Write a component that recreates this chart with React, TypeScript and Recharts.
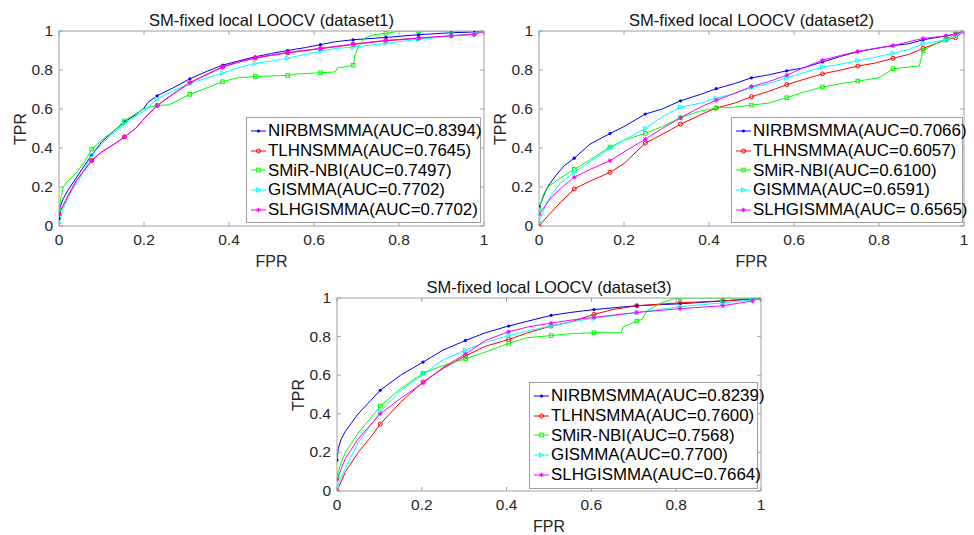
import React from "react";
import { LineChart, Line, XAxis, YAxis } from "recharts";

type Pt = [number, number];

const seriesNames = ["NIRBMSMMA", "TLHNSMMA", "SMiR-NBI", "GISMMA", "SLHGISMMA"];
const seriesColors = ["#0000ff", "#ff0000", "#00ff00", "#00ffff", "#ff00ff"];
const axisTicks = [0, 0.2, 0.4, 0.6, 0.8, 1];

// dataset1
const auc1 = ["0.8394", "0.7645", "0.7497", "0.7702", "0.7702"];
const marks1 = [0, 0.077, 0.154, 0.231, 0.308, 0.385, 0.462, 0.538, 0.615, 0.692, 0.769, 0.846, 0.923, 0.977, 1];
const nirb1: Pt[] = [[0,0.038],[0.003,0.1],[0.01,0.14],[0.02,0.18],[0.04,0.245],[0.06,0.31],[0.077,0.363],[0.1,0.43],[0.13,0.49],[0.154,0.534],[0.18,0.57],[0.2,0.605],[0.21,0.635],[0.231,0.668],[0.27,0.71],[0.308,0.755],[0.35,0.795],[0.385,0.825],[0.42,0.845],[0.462,0.868],[0.5,0.885],[0.538,0.9],[0.58,0.915],[0.615,0.93],[0.65,0.945],[0.692,0.955],[0.769,0.967],[0.846,0.981],[0.923,0.991],[0.977,0.995],[1,1]];
const tlhn1: Pt[] = [[0,0.062],[0.02,0.15],[0.04,0.23],[0.077,0.336],[0.1,0.38],[0.13,0.42],[0.154,0.457],[0.18,0.5],[0.2,0.55],[0.231,0.618],[0.27,0.679],[0.308,0.734],[0.35,0.779],[0.385,0.815],[0.42,0.839],[0.462,0.861],[0.5,0.875],[0.538,0.888],[0.615,0.909],[0.692,0.931],[0.769,0.95],[0.846,0.962],[0.923,0.975],[0.977,0.983],[1,1]];
const smir1: Pt[] = [[0,0.085],[0.005,0.15],[0.01,0.2],[0.02,0.23],[0.04,0.27],[0.06,0.33],[0.077,0.394],[0.1,0.44],[0.13,0.49],[0.154,0.539],[0.18,0.575],[0.2,0.602],[0.231,0.618],[0.26,0.622],[0.28,0.645],[0.308,0.675],[0.35,0.71],[0.385,0.74],[0.42,0.76],[0.462,0.767],[0.538,0.772],[0.56,0.78],[0.615,0.786],[0.65,0.79],[0.655,0.81],[0.692,0.824],[0.697,0.88],[0.705,0.92],[0.72,0.965],[0.74,0.98],[0.769,0.988],[0.79,0.995],[0.8,1],[0.846,1],[0.923,1],[0.977,1],[1,1]];
const gis1: Pt[] = [[0,0.015],[0.01,0.09],[0.03,0.18],[0.05,0.25],[0.077,0.363],[0.1,0.42],[0.13,0.48],[0.154,0.526],[0.2,0.59],[0.231,0.651],[0.27,0.695],[0.308,0.731],[0.35,0.76],[0.385,0.784],[0.42,0.81],[0.462,0.834],[0.5,0.845],[0.538,0.861],[0.58,0.88],[0.615,0.897],[0.65,0.91],[0.692,0.918],[0.769,0.937],[0.846,0.957],[0.923,0.975],[0.977,0.985],[1,1]];
const slhg1: Pt[] = [[0,0.062],[0.02,0.15],[0.04,0.23],[0.077,0.336],[0.1,0.38],[0.13,0.42],[0.154,0.457],[0.18,0.5],[0.2,0.55],[0.231,0.618],[0.27,0.68],[0.308,0.736],[0.35,0.78],[0.385,0.817],[0.42,0.84],[0.462,0.863],[0.5,0.877],[0.538,0.89],[0.615,0.911],[0.692,0.933],[0.769,0.952],[0.846,0.964],[0.923,0.976],[0.977,0.983],[1,1]];

// dataset2
const auc2 = ["0.7066", "0.6057", "0.6100", "0.6591", " 0.6565"];
const marks2 = [0, 0.083, 0.167, 0.25, 0.333, 0.417, 0.5, 0.583, 0.667, 0.75, 0.833, 0.904, 0.958, 0.98, 1];
const nirb2: Pt[] = [[0,0.101],[0.005,0.12],[0.01,0.15],[0.02,0.2],[0.04,0.26],[0.06,0.31],[0.083,0.348],[0.12,0.42],[0.167,0.474],[0.2,0.51],[0.25,0.574],[0.29,0.6],[0.333,0.642],[0.38,0.675],[0.417,0.704],[0.46,0.73],[0.5,0.76],[0.54,0.775],[0.583,0.796],[0.62,0.81],[0.667,0.841],[0.71,0.87],[0.75,0.894],[0.79,0.91],[0.833,0.925],[0.87,0.935],[0.904,0.955],[0.958,0.975],[0.98,0.985],[1,1]];
const tlhn2: Pt[] = [[0,0],[0.02,0.05],[0.05,0.12],[0.083,0.19],[0.12,0.23],[0.167,0.275],[0.2,0.32],[0.25,0.425],[0.29,0.47],[0.333,0.522],[0.38,0.57],[0.417,0.605],[0.46,0.63],[0.5,0.663],[0.54,0.69],[0.583,0.725],[0.62,0.75],[0.667,0.78],[0.71,0.8],[0.75,0.82],[0.79,0.835],[0.833,0.86],[0.87,0.88],[0.904,0.911],[0.958,0.955],[0.98,0.966],[1,1]];
const smir2: Pt[] = [[0,0.086],[0.01,0.16],[0.02,0.2],[0.04,0.23],[0.06,0.26],[0.083,0.29],[0.12,0.34],[0.167,0.405],[0.2,0.44],[0.25,0.475],[0.29,0.51],[0.333,0.555],[0.38,0.59],[0.417,0.605],[0.46,0.61],[0.5,0.62],[0.54,0.63],[0.583,0.658],[0.62,0.685],[0.667,0.713],[0.71,0.73],[0.75,0.743],[0.8,0.76],[0.815,0.78],[0.833,0.807],[0.87,0.815],[0.895,0.82],[0.9,0.87],[0.904,0.9],[0.93,0.93],[0.958,0.96],[0.98,0.985],[1,1]];
const gis2: Pt[] = [[0,0.02],[0.02,0.13],[0.05,0.22],[0.083,0.275],[0.12,0.33],[0.167,0.4],[0.2,0.44],[0.25,0.5],[0.29,0.56],[0.333,0.61],[0.38,0.63],[0.417,0.655],[0.46,0.68],[0.5,0.71],[0.54,0.73],[0.583,0.76],[0.62,0.785],[0.667,0.815],[0.71,0.83],[0.75,0.848],[0.79,0.865],[0.833,0.885],[0.87,0.905],[0.904,0.935],[0.958,0.955],[0.98,0.975],[1,1]];
const slhg2: Pt[] = [[0,0.06],[0.03,0.15],[0.06,0.21],[0.083,0.25],[0.12,0.29],[0.167,0.335],[0.2,0.38],[0.25,0.445],[0.29,0.5],[0.333,0.555],[0.38,0.61],[0.417,0.645],[0.46,0.68],[0.5,0.715],[0.54,0.74],[0.583,0.773],[0.62,0.81],[0.667,0.85],[0.71,0.875],[0.75,0.895],[0.79,0.91],[0.833,0.925],[0.87,0.945],[0.904,0.962],[0.958,0.975],[0.98,0.985],[1,1]];

// dataset3
const auc3 = ["0.8239", "0.7600", "0.7568", "0.7700", "0.7664"];
const marks3 = [0, 0.102, 0.203, 0.303, 0.405, 0.505, 0.606, 0.707, 0.809, 0.91, 0.98, 1];
const nirb3: Pt[] = [[0,0.16],[0.003,0.22],[0.01,0.27],[0.02,0.31],[0.05,0.4],[0.08,0.47],[0.102,0.522],[0.15,0.6],[0.203,0.668],[0.25,0.73],[0.303,0.78],[0.35,0.82],[0.405,0.855],[0.45,0.88],[0.505,0.91],[0.55,0.925],[0.606,0.94],[0.707,0.96],[0.809,0.97],[0.91,0.985],[0.98,0.995],[1,1]];
const tlhn3: Pt[] = [[0,0],[0.02,0.1],[0.05,0.2],[0.08,0.28],[0.102,0.347],[0.15,0.46],[0.203,0.565],[0.25,0.635],[0.303,0.7],[0.35,0.75],[0.405,0.785],[0.45,0.82],[0.505,0.855],[0.55,0.875],[0.606,0.915],[0.65,0.94],[0.707,0.96],[0.809,0.975],[0.91,0.985],[0.98,0.995],[1,1]];
const smir3: Pt[] = [[0,0.075],[0.01,0.15],[0.02,0.2],[0.05,0.3],[0.08,0.38],[0.102,0.44],[0.15,0.53],[0.203,0.61],[0.25,0.65],[0.303,0.685],[0.35,0.72],[0.405,0.765],[0.45,0.795],[0.505,0.805],[0.55,0.815],[0.606,0.82],[0.67,0.82],[0.675,0.85],[0.707,0.88],[0.72,0.89],[0.73,0.93],[0.76,0.97],[0.8,1],[0.809,1],[0.91,1],[0.98,1],[1,1]];
const gis3: Pt[] = [[0,0.02],[0.02,0.12],[0.05,0.25],[0.102,0.41],[0.15,0.52],[0.203,0.605],[0.25,0.68],[0.303,0.73],[0.35,0.77],[0.405,0.805],[0.45,0.83],[0.505,0.855],[0.55,0.875],[0.606,0.895],[0.707,0.925],[0.809,0.955],[0.91,0.975],[0.98,0.99],[1,1]];
const slhg3: Pt[] = [[0,0.06],[0.02,0.17],[0.05,0.27],[0.102,0.4],[0.15,0.48],[0.203,0.56],[0.25,0.64],[0.303,0.71],[0.35,0.78],[0.405,0.825],[0.45,0.85],[0.505,0.87],[0.55,0.885],[0.606,0.9],[0.707,0.925],[0.809,0.945],[0.91,0.96],[0.98,0.985],[1,1]];

const BOX = "#a0a0a0";
const INK = "#262626";
const FONT = "'Liberation Sans', Arial, sans-serif";

const toRows = (pts: Pt[]) => pts.map(([fpr, tpr]) => ({ fpr, tpr }));

function Marker({ kind, cx, cy, color }: { kind: number; cx: number; cy: number; color: string }) {
  if (kind === 0) return <circle cx={cx} cy={cy} r={1.6} fill={color} />;
  if (kind === 1) return <circle cx={cx} cy={cy} r={2} fill="none" stroke={color} strokeWidth={1} />;
  if (kind === 2) return <rect x={cx - 1.8} y={cy - 1.8} width={3.6} height={3.6} fill="none" stroke={color} strokeWidth={1} />;
  if (kind === 3)
    return <path d={`M${cx - 2},${cy - 2.3}L${cx + 2.3},${cy}L${cx - 2},${cy + 2.3}Z`} fill="none" stroke={color} strokeWidth={1} />;
  return (
    <g stroke={color} strokeWidth={1}>
      <line x1={cx - 2.3} y1={cy} x2={cx + 2.3} y2={cy} />
      <line x1={cx} y1={cy - 2.3} x2={cx} y2={cy + 2.3} />
      <line x1={cx - 1.6} y1={cy - 1.6} x2={cx + 1.6} y2={cy + 1.6} />
      <line x1={cx - 1.6} y1={cy + 1.6} x2={cx + 1.6} y2={cy - 1.6} />
    </g>
  );
}

const fmt = (v: number) => String(v);

const BottomTick = (p: any) => (
  <g>
    <line x1={p.x} x2={p.x} y1={p.y} y2={p.y - 4} stroke={BOX} />
    <text x={p.x} y={p.y + 19} textAnchor="middle" fill={INK} fontSize={15.5} fontFamily={FONT}>
      {fmt(p.payload.value)}
    </text>
  </g>
);
const TopTick = (p: any) => <line x1={p.x} x2={p.x} y1={p.y} y2={p.y + 4} stroke={BOX} />;
const LeftTick = (p: any) => (
  <g>
    <line x1={p.x} x2={p.x + 4} y1={p.y} y2={p.y} stroke={BOX} />
    <text x={p.x - 6} y={p.y + 5} textAnchor="end" fill={INK} fontSize={15.5} fontFamily={FONT}>
      {fmt(p.payload.value)}
    </text>
  </g>
);
const RightTick = (p: any) => <line x1={p.x} x2={p.x - 4} y1={p.y} y2={p.y} stroke={BOX} />;

type PanelProps = {
  left: number;
  top: number;
  w: number;
  h: number;
  title: string;
  curves: Pt[][];
  marks: number[];
  aucs: string[];
  legend: { left: number; top: number; width: number; height: number };
};

// space around the plot area inside each chart svg; each axis takes 1px of it
const PAD = { top: 10, right: 10, bottom: 30, left: 50 };
const AX = 1;

function RocPanel({ left, top, w, h, title, curves, marks, aucs, legend }: PanelProps) {
  const markSet = new Set(marks);
  return (
    <>
      <div style={{ position: "absolute", left, top: top - 21, width: w, textAlign: "center", fontSize: 16.5, lineHeight: "20px", color: "#111", whiteSpace: "nowrap" }}>
        {title}
      </div>
      <div style={{ position: "absolute", left, top: top + h + 26, width: w, textAlign: "center", fontSize: 16, lineHeight: "20px", color: INK }}>
        FPR
      </div>
      <div style={{ position: "absolute", left: left - 38, top: top + h / 2, transform: "translate(-50%, -50%) rotate(-90deg)", fontSize: 16, lineHeight: "20px", color: INK }}>
        TPR
      </div>
      <div style={{ position: "absolute", left: left - PAD.left, top: top - PAD.top }}>
        <LineChart
          width={w + PAD.left + PAD.right}
          height={h + PAD.top + PAD.bottom}
          margin={{ top: PAD.top - AX, right: PAD.right - AX, bottom: PAD.bottom - AX, left: PAD.left - AX }}
        >
          <XAxis xAxisId="b" type="number" dataKey="fpr" domain={[0, 1]} ticks={axisTicks} height={AX} tickSize={0} tickMargin={0} tickLine={false} axisLine={{ stroke: BOX }} tick={BottomTick} allowDataOverflow interval={0} />
          <XAxis xAxisId="t" orientation="top" type="number" dataKey="fpr" domain={[0, 1]} ticks={axisTicks} height={AX} tickSize={0} tickMargin={0} tickLine={false} axisLine={{ stroke: BOX }} tick={TopTick} allowDataOverflow interval={0} />
          <YAxis yAxisId="l" type="number" domain={[0, 1]} ticks={axisTicks} width={AX} tickSize={0} tickMargin={0} tickLine={false} axisLine={{ stroke: BOX }} tick={LeftTick} allowDataOverflow interval={0} />
          <YAxis yAxisId="r" orientation="right" type="number" domain={[0, 1]} ticks={axisTicks} width={AX} tickSize={0} tickMargin={0} tickLine={false} axisLine={{ stroke: BOX }} tick={RightTick} allowDataOverflow interval={0} />
          {curves.map((c, i) => (
            <Line
              key={seriesNames[i]}
              xAxisId="b"
              yAxisId="l"
              data={toRows(c)}
              dataKey="tpr"
              type="linear"
              stroke={seriesColors[i]}
              strokeWidth={1}
              isAnimationActive={false}
              dot={(d: any) =>
                markSet.has(d.payload.fpr) ? (
                  <Marker key={`m${i}-${d.index}`} kind={i} cx={d.cx} cy={d.cy} color={seriesColors[i]} />
                ) : (
                  <g key={`m${i}-${d.index}`} />
                )
              }
              activeDot={false}
            />
          ))}
        </LineChart>
      </div>
      <div
        style={{
          position: "absolute",
          left: legend.left,
          top: legend.top,
          width: legend.width,
          height: legend.height,
          boxSizing: "border-box",
          border: `1px solid ${BOX}`,
          background: "#fff",
          paddingTop: 3,
        }}
      >
        {seriesNames.map((name, i) => (
          <div key={name} style={{ display: "flex", alignItems: "center", height: 19.8, whiteSpace: "nowrap" }}>
            <svg width={20} height={16} style={{ flex: "none" }}>
              <line x1={4} x2={19} y1={8} y2={8} stroke={seriesColors[i]} strokeWidth={1} />
              <Marker kind={i} cx={11.5} cy={8} color={seriesColors[i]} />
            </svg>
            <span style={{ fontSize: 16.9, color: "#000", marginLeft: 1 }}>{`${name}(AUC=${aucs[i]})`}</span>
          </div>
        ))}
      </div>
    </>
  );
}

export default function App() {
  return (
    <div style={{ position: "absolute", left: 0, top: 0, width: 974, height: 535, background: "#fff", fontFamily: FONT, overflow: "hidden" }}>
      <RocPanel
        left={59}
        top={31}
        w={425}
        h={195}
        title="SM-fixed local LOOCV (dataset1)"
        curves={[nirb1, tlhn1, smir1, gis1, slhg1]}
        marks={marks1}
        aucs={auc1}
        legend={{ left: 246, top: 117, width: 235, height: 106 }}
      />
      <RocPanel
        left={539}
        top={31}
        w={425}
        h={195}
        title="SM-fixed local LOOCV (dataset2)"
        curves={[nirb2, tlhn2, smir2, gis2, slhg2]}
        marks={marks2}
        aucs={auc2}
        legend={{ left: 731, top: 117, width: 232, height: 106 }}
      />
      <RocPanel
        left={337}
        top={298}
        w={424}
        h={193}
        title="SM-fixed local LOOCV (dataset3)"
        curves={[nirb3, tlhn3, smir3, gis3, slhg3]}
        marks={marks3}
        aucs={auc3}
        legend={{ left: 529, top: 382, width: 229, height: 107 }}
      />
    </div>
  );
}
